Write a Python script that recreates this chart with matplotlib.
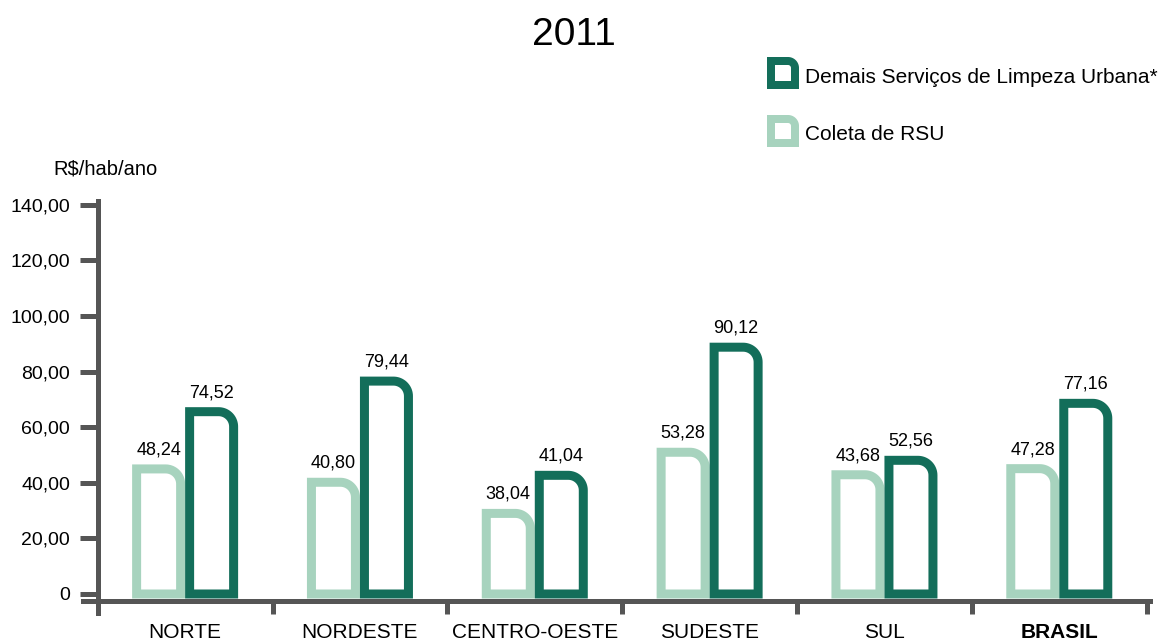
import numpy as np
import matplotlib
matplotlib.use("Agg")
import matplotlib.pyplot as plt
from matplotlib.path import Path
from matplotlib.patches import PathPatch

plt.rcParams["font.family"] = ["Liberation Sans", "DejaVu Sans"]

# data (bar heights as drawn in the source chart; labels as printed)
regions = ["NORTE", "NORDESTE", "CENTRO-OESTE", "SUDESTE", "SUL", "BRASIL"]
coleta_heights = [45.0, 40.2, 29.0, 51.0, 42.9, 45.1]
demais_heights = [65.6, 76.6, 42.7, 88.8, 48.1, 68.6]
coleta_labels = ["48,24", "40,80", "38,04", "53,28", "43,68", "47,28"]
demais_labels = ["74,52", "79,44", "41,04", "90,12", "52,56", "77,16"]
yticks = [0, 20, 40, 60, 80, 100, 120, 140]

DARK = "#136e5a"
LIGHT = "#a7d3be"
AXC = "#555555"

W, H = 1170, 644
PX_X = 174.83   # px per category
PX_Y = 2.779    # px per R$ unit


def d_path(x0, x1, y0, y1, rx, ry, n=20):
    """rectangle with rounded top-right corner"""
    t = np.linspace(np.pi / 2, 0, n)
    arc = [(x1 - rx + rx * np.cos(a), y1 - ry + ry * np.sin(a)) for a in t]
    verts = [(x0, y0), (x0, y1)] + arc + [(x1, y0), (x0, y0)]
    return Path(verts, closed=True)


fig = plt.figure(figsize=(W / 100, H / 100), dpi=100)
ax = fig.add_axes([97.7 / W, (H - 600.5) / H, (1146.7 - 97.7) / W, (600.5 - 191) / H])
ax.set_xlim(-0.5, 5.5)
ax.set_ylim(-2.34, 145)

stroke_px = 9
lw = stroke_px * 72 / 100
outer = 53 / PX_X
half = stroke_px / 2 / PX_X
rx, ry = 15 / PX_X, 15 / PX_Y

x = np.arange(len(regions))
for i, c in enumerate(x):
    for h, col, lab, x0 in ((coleta_heights[i], LIGHT, coleta_labels[i], c - outer),
                            (demais_heights[i], DARK, demais_labels[i], c)):
        p = d_path(x0 + half, x0 + outer - half, 0, h, rx, ry)
        ax.add_patch(PathPatch(p, facecolor="white", edgecolor=col, lw=lw,
                               joinstyle="miter", zorder=3))
        ax.annotate(lab, (x0 + outer / 2, h), xytext=(0, 10.5), textcoords="offset points",
                    ha="center", va="baseline", fontsize=13, zorder=4)

# axes styling
for s in ("top", "right"):
    ax.spines[s].set_visible(False)
ax.spines["left"].set_bounds(-6.84, 141.4)
ax.spines["bottom"].set_bounds(-0.584, 5.519)
for s in ("left", "bottom"):
    ax.spines[s].set_linewidth(3.6)
    ax.spines[s].set_color(AXC)

ax.set_yticks(yticks)
ax.set_yticklabels(["0" if v == 0 else f"{v:.2f}".replace(".", ",") for v in yticks])
ax.tick_params(axis="y", length=12.7, width=3.6, color=AXC, pad=7.2, labelsize=14)

ax.set_xticks(x)
ax.set_xticklabels(regions)
ax.set_xticks(np.arange(-0.5, 6), minor=True)
ax.tick_params(axis="x", which="major", length=0, pad=16, labelsize=15)
ax.tick_params(axis="x", which="minor", length=9, width=3.6, color=AXC)
ax.get_xticklabels()[-1].set_fontweight("bold")

fig.text(53 / W, 1 - 175 / H, "R$/hab/ano", fontsize=14.5, va="baseline", ha="left")
fig.text(574 / W, 1 - 45 / H, "2011", fontsize=28, va="baseline", ha="center")

# legend
for (top, col, txt, base) in ((57, DARK, "Demais Serviços de Limpeza Urbana*", 83),
                              (115, LIGHT, "Coleta de RSU", 140)):
    s = 4
    l, r, t, b = 767 + s, 799 - s, top + s, top + 32 - s
    p = d_path(l / W, r / W, 1 - b / H, 1 - t / H, 7 / W, 7 / H)
    fig.add_artist(PathPatch(p, facecolor="white", edgecolor=col, lw=8 * 0.72,
                             joinstyle="miter", transform=fig.transFigure))
    fig.text(805 / W, 1 - base / H, txt, fontsize=15, va="baseline", ha="left")

fig.savefig("out.png", dpi=100)
